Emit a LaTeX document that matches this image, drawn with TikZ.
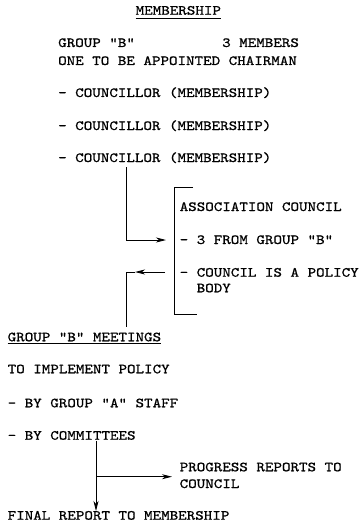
\documentclass[tikz,border=0pt]{standalone}
\usepackage{fontspec}
\newfontfamily\typew[FakeStretch=1.16,FakeBold=0.8]{lmmono10-regular.otf}
\usetikzlibrary{arrows.meta}

\tikzset{
  txt/.style={anchor=base west, inner sep=0pt, font=\typew\fontsize{14}{17}\selectfont},
  conn/.style={line width=0.9pt},
  arr/.style={conn, -{Stealth[length=10pt,width=5pt,inset=3pt]}}
}

\begin{document}
\begin{tikzpicture}[x=1pt,y=-1pt]
    \useasboundingbox (0,0) rectangle (359,524);
    % membership block
    \node[txt] (mem) at (135.5,14.7) {MEMBERSHIP};
    \node[txt] (grp) at (58,47) {GROUP "B"};
    \node[txt] (three) at (222,47) {3 MEMBERS};
    \node[txt] (chair) at (58,65) {ONE TO BE APPOINTED CHAIRMAN};
    \node[txt] (cl1) at (58,97) {- COUNCILLOR (MEMBERSHIP)};
    \node[txt] (cl2) at (58,130) {- COUNCILLOR (MEMBERSHIP)};
    \node[txt] (cl3) at (58,162) {- COUNCILLOR (MEMBERSHIP)};
    \draw[conn] ([yshift=-4pt]mem.base west) -- ([yshift=-4pt]mem.base east);

    % council
    \node[txt] (assoc) at (179.5,211) {ASSOCIATION COUNCIL};
    \node[txt] (from) at (179.5,244) {- 3 FROM GROUP "B"};
    \node[txt] (pol) at (179.5,276.7) {- COUNCIL IS A POLICY};
    \node[txt] (body) at (196.5,292.3) {BODY};
    \draw[conn] (193,187) -- (174.5,187) -- (174.5,314.3) -- (197,314.3);

    % meetings block
    \node[txt] (meet) at (7.5,341.3) {GROUP "B" MEETINGS};
    \node[txt] (impl) at (7.5,373.3) {TO IMPLEMENT POLICY};
    \node[txt] (staff) at (7.5,407.3) {- BY GROUP "A" STAFF};
    \node[txt] (comm) at (7.5,439.7) {- BY COMMITTEES};
    \node[txt] (prog) at (179.5,471.3) {PROGRESS REPORTS TO};
    \node[txt] (progc) at (179.5,488) {COUNCIL};
    \node[txt] (final) at (7.5,519.7) {FINAL REPORT TO MEMBERSHIP};
    \draw[conn] ([yshift=-2.5pt]meet.base west) -- ([yshift=-2.5pt]meet.base east);

    \coordinate (up) at (126,167);
    \coordinate (upc) at (126,240);
    \coordinate (in) at (166,240);
    \coordinate (out) at (165,272);
    \coordinate (back) at (135,272);
    \coordinate (dnc) at (126.5,272);
    \coordinate (dn) at (126.5,327);
    \coordinate (rep) at (96,441);
    \coordinate (repc) at (96,476.7);
    \coordinate (fin) at (96,511);
    \coordinate (prg) at (172,476.7);

    \draw[arr] (up) -- (upc) -- (in);
    \draw[arr] (out) -- (back);
    \draw[conn] (back) -- (dnc) -- (dn);
    \draw[arr] (rep) -- (fin);
    \draw[arr] (repc) -- (prg);
\end{tikzpicture}
\end{document}
